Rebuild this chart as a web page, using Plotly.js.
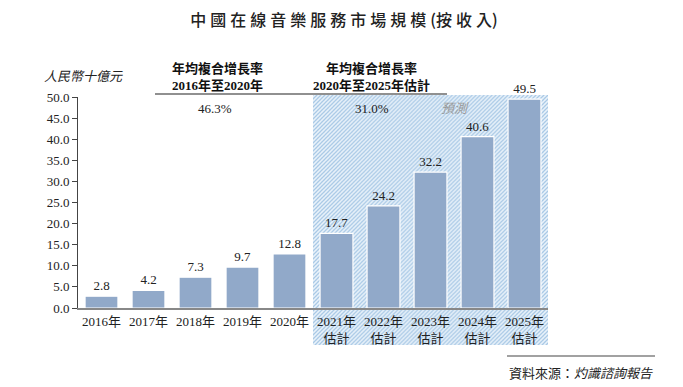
<!DOCTYPE html>
<html>
<head>
<meta charset="utf-8">
<script src="https://cdn.plot.ly/plotly-3.0.1.min.js"></script>
<style>html,body{margin:0;padding:0;background:#fff;}#chart{width:683px;height:387px;}</style>
</head>
<body>
<div id="chart"></div>
<script>
const years = ['2016年','2017年','2018年','2019年','2020年','2021年<br>估計','2022年<br>估計','2023年<br>估計','2024年<br>估計','2025年<br>估計'];
const marketSize = [2.8, 4.2, 7.3, 9.7, 12.8, 17.7, 24.2, 32.2, 40.6, 49.5];
const yTicks = [0, 5, 10, 15, 20, 25, 30, 35, 40, 45, 50];
const yTickText = ['0.0','5.0','10.0','15.0','20.0','25.0','30.0','35.0','40.0','45.0','50.0'];
const cagrHist = '46.3%';
const cagrFcst = '31.0%';

const L = 78, R = 548, T = 97, B = 308;
const W = R - L, H = B - T;
const px = x => (x - L) / W;
const py = y => (B - y) / H;

const SERIF = "'Liberation Serif', 'Times New Roman', 'Noto Sans CJK TC', serif";
const CJK = "'Noto Sans CJK TC', 'Noto Sans CJK SC', sans-serif";

const hw = 236, hh = 250;
const svg = `<svg xmlns="http://www.w3.org/2000/svg" width="${hw}" height="${hh}" viewBox="0 0 ${hw} ${hh}">
<defs><pattern id="p" width="4" height="4" patternUnits="userSpaceOnUse">
<rect width="4" height="4" fill="#e9f2fa"/>
<path d="M-1,1 l2,-2 M0,4 l4,-4 M3,5 l2,-2" stroke="#a9c9e6" stroke-width="1.3"/>
<path d="M-1,3 l2,2 M0,0 l4,4 M3,-1 l2,2" stroke="#d0e3f3" stroke-width="0.8"/>
</pattern></defs>
<rect width="${hw}" height="${hh}" fill="url(#p)"/></svg>`;
const hatchSrc = 'data:image/svg+xml;charset=utf-8,' + encodeURIComponent(svg);

const trace = {
  type: 'bar',
  x: years,
  y: marketSize,
  marker: {color: '#91a9c9', line: {color: '#ffffff', width: 1.2}},
  width: 0.7,
  text: marketSize.map(v => v.toFixed(1)),
  textposition: 'outside',
  cliponaxis: false,
  textfont: {family: SERIF, size: 13, color: '#222'},
  hoverinfo: 'skip'
};

const layout = {
  width: 683, height: 387,
  margin: {l: L, r: 683 - R, t: T, b: 387 - B, pad: 0},
  paper_bgcolor: '#ffffff',
  plot_bgcolor: 'rgba(0,0,0,0)',
  showlegend: false,
  bargap: 0.3,
  title: {
    text: '中\u2005國\u2005在\u2005線\u2005音\u2005樂\u2005服\u2005務\u2005市\u2005場\u2005規\u2005模\u2005(按\u2005收\u2005入)',
    font: {family: CJK, size: 16, color: '#222', weight: 500},
    x: 344 / 683, xref: 'container', xanchor: 'center',
    y: 1 - 20 / 387, yref: 'container', yanchor: 'middle'
  },
  xaxis: {
    type: 'category',
    range: [-0.5, 9.5],
    showgrid: false, zeroline: false,
    showline: true, linecolor: '#888', linewidth: 2,
    ticks: '',
    tickfont: {family: SERIF, size: 13, color: '#222'},
    fixedrange: true
  },
  yaxis: {
    range: [0, 50],
    tickvals: yTicks, ticktext: yTickText,
    showgrid: false, zeroline: false,
    showline: true, linecolor: '#444', linewidth: 1,
    ticks: 'outside', ticklen: 5, tickcolor: '#444', tickwidth: 1,
    tickfont: {family: SERIF, size: 13, color: '#222'},
    fixedrange: true
  },
  images: [{
    source: hatchSrc,
    xref: 'x', yref: 'paper',
    x: 4.5, sizex: 5,
    y: py(95), sizey: (345 - 95) / H,
    xanchor: 'left', yanchor: 'top',
    sizing: 'stretch', layer: 'below'
  }],
  shapes: [
    {type: 'line', xref: 'paper', yref: 'paper', x0: px(155), x1: px(447), y0: py(94), y1: py(94), line: {color: '#222', width: 1.2}},
    {type: 'line', xref: 'paper', yref: 'paper', x0: px(507), x1: px(655), y0: py(356), y1: py(356), line: {color: '#444', width: 1.2}}
  ],
  annotations: [
    {text: '<i>人民幣十億元</i>', x: px(83), y: py(75), xref: 'paper', yref: 'paper', showarrow: false, xanchor: 'center', yanchor: 'middle', font: {family: CJK, size: 13, color: '#222'}},
    {text: '<b>年均複合增長率<br>2016年至2020年</b>', x: px(217), y: py(76.5), xref: 'paper', yref: 'paper', showarrow: false, xanchor: 'center', yanchor: 'middle', font: {family: SERIF, size: 13, color: '#111'}},
    {text: '<b>年均複合增長率<br>2020年至2025年估計</b>', x: px(371), y: py(76.5), xref: 'paper', yref: 'paper', showarrow: false, xanchor: 'center', yanchor: 'middle', font: {family: SERIF, size: 13, color: '#111'}},
    {text: cagrHist, x: px(215), y: py(108), xref: 'paper', yref: 'paper', showarrow: false, xanchor: 'center', yanchor: 'middle', font: {family: SERIF, size: 13, color: '#222'}},
    {text: cagrFcst, x: px(372), y: py(108), xref: 'paper', yref: 'paper', showarrow: false, xanchor: 'center', yanchor: 'middle', font: {family: SERIF, size: 13, color: '#222'}},
    {text: '<i>預測</i>', x: px(455), y: py(107), xref: 'paper', yref: 'paper', showarrow: false, xanchor: 'center', yanchor: 'middle', font: {family: CJK, size: 13, color: '#9a9a9a'}},
    {text: '資料來源：<i>灼識諮詢報告</i>', x: px(507), y: py(372), xref: 'paper', yref: 'paper', showarrow: false, xanchor: 'left', yanchor: 'middle', font: {family: CJK, size: 13, color: '#222'}}
  ]
};

Plotly.newPlot('chart', [trace], layout, {staticPlot: true, displayModeBar: false});
</script>
</body>
</html>
